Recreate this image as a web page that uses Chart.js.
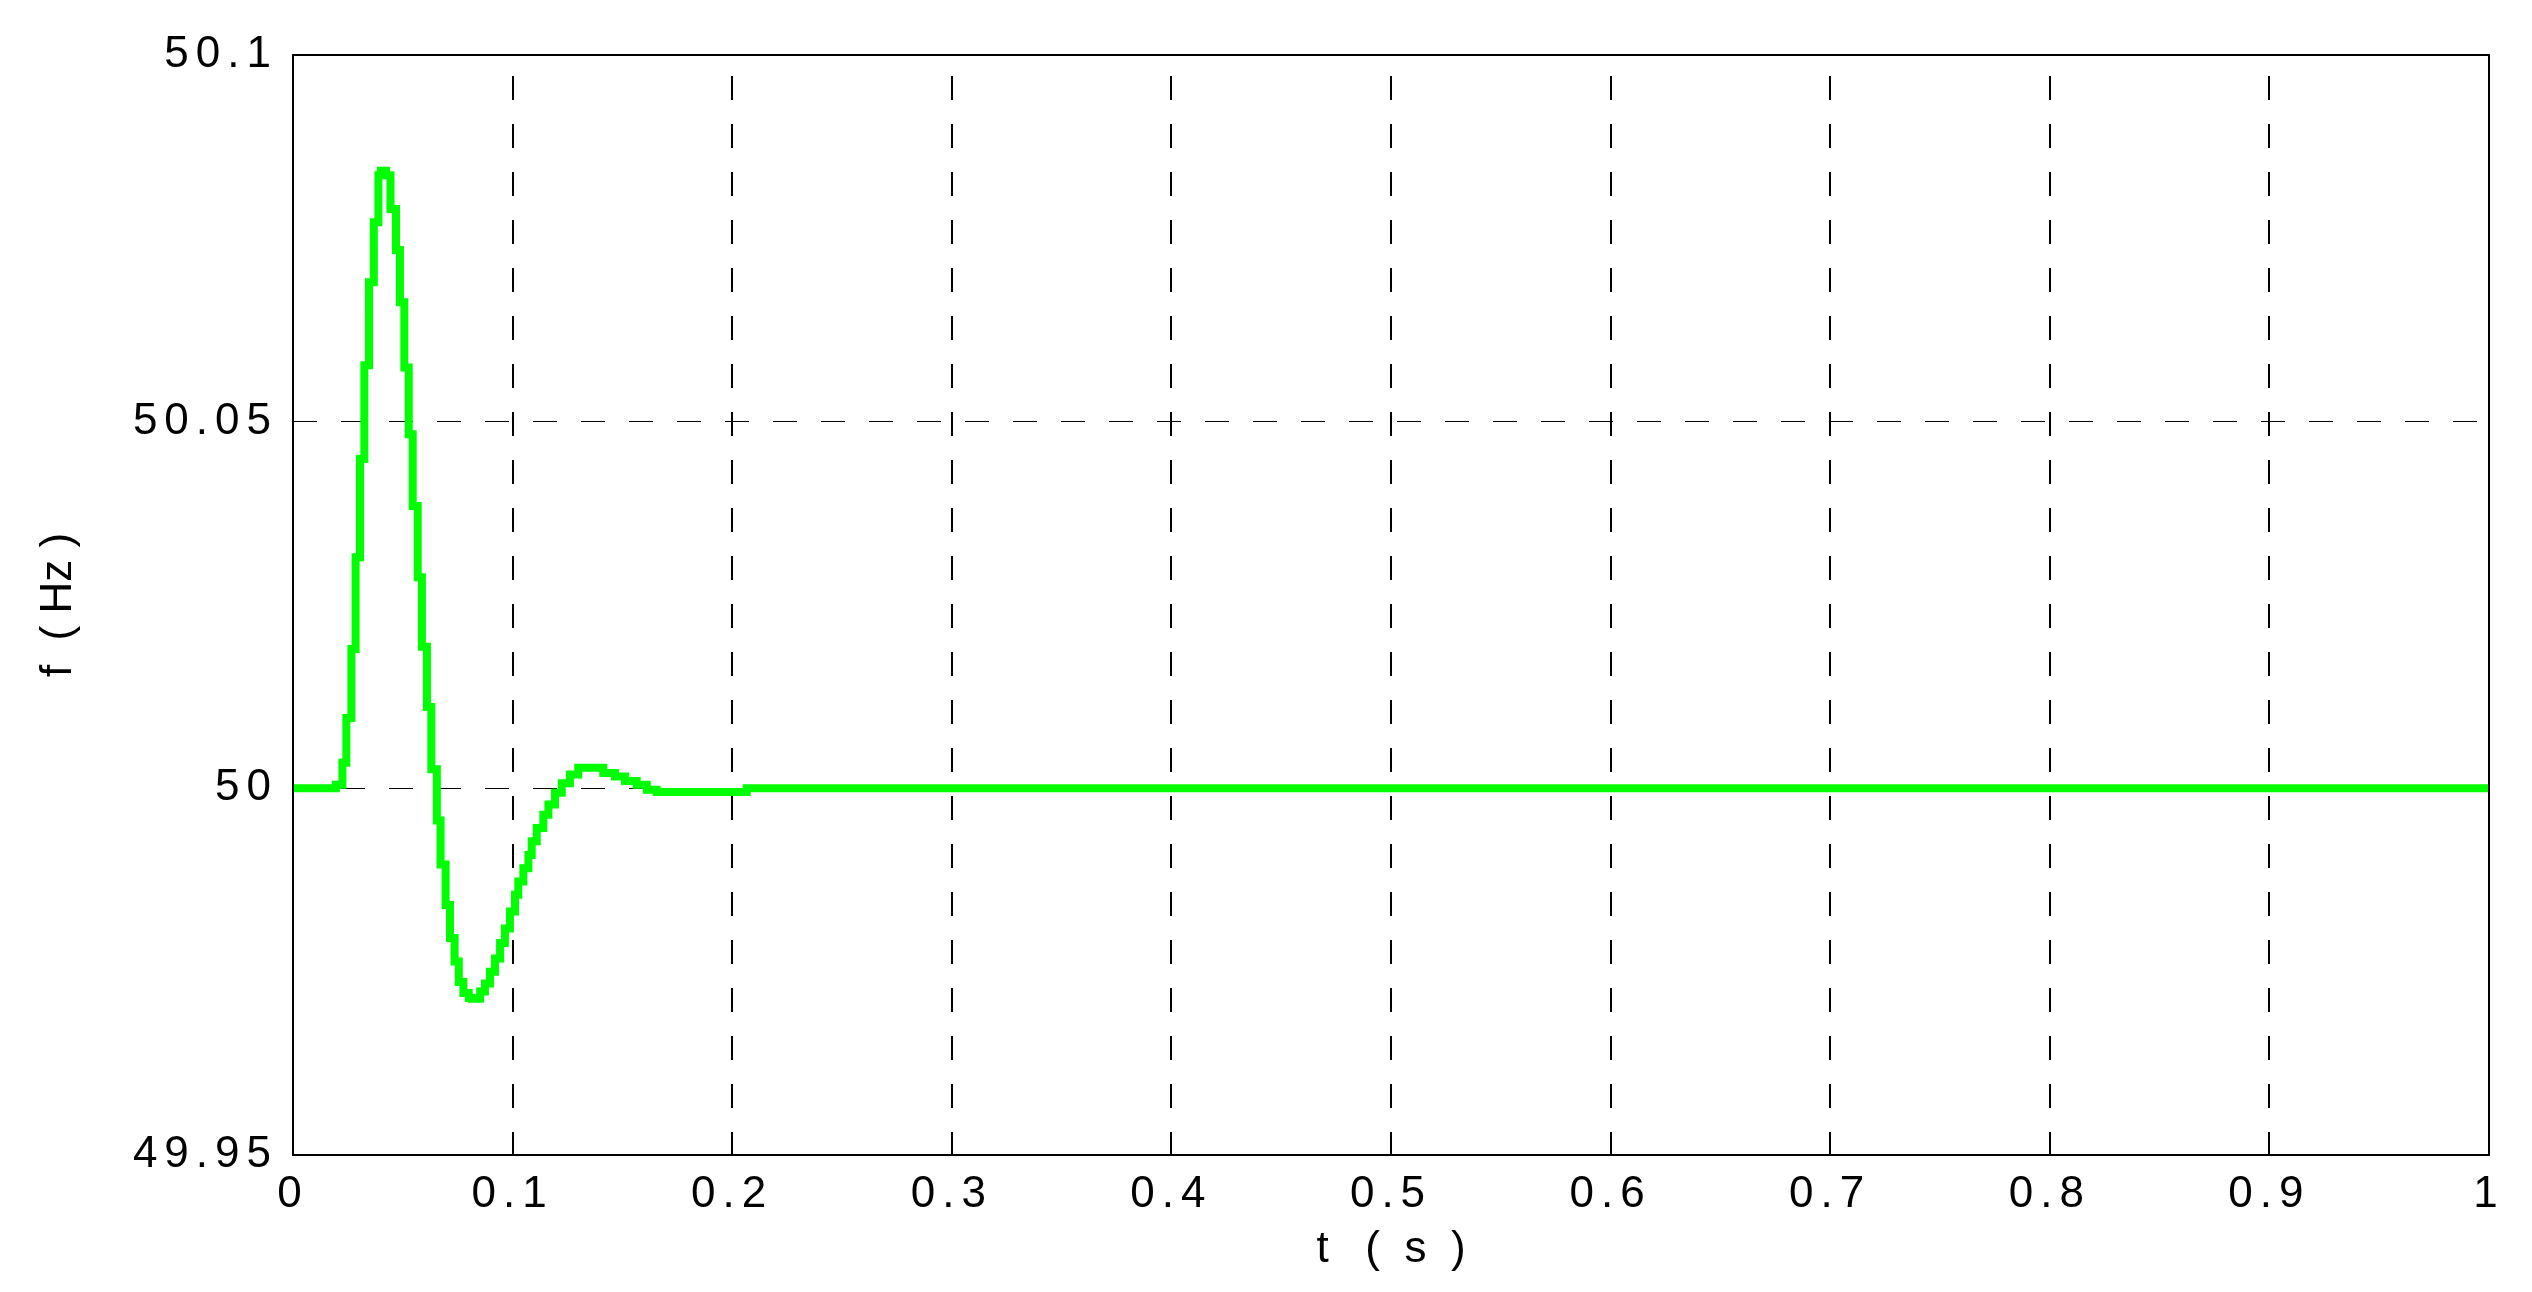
<!DOCTYPE html>
<html><head><meta charset="utf-8">
<script src="https://cdn.jsdelivr.net/npm/chart.js@4.4.1/dist/chart.umd.min.js"></script>
<style>html,body{margin:0;padding:0;background:#fff;overflow:hidden}canvas{display:block}</style>
</head><body>
<canvas id="c" width="2532" height="1292"></canvas>
<script>
// time (s) at which each step starts, and frequency (Hz) held from that time
const timeS = [
  0, 0.0184, 0.0195, 0.0225, 0.0243, 0.0266, 0.0285, 0.0305, 0.0325, 0.0346,
  0.0368, 0.0389, 0.0400, 0.0424, 0.0444, 0.0469, 0.0487, 0.0507, 0.0527, 0.0545,
  0.0568, 0.0587, 0.0610, 0.0630, 0.0655, 0.0672, 0.0695, 0.0715, 0.0736, 0.0755,
  0.0776, 0.0800, 0.0814, 0.0852, 0.0874, 0.0897, 0.0920, 0.0943, 0.0965, 0.0988,
  0.1011, 0.1026, 0.1049, 0.1072, 0.1087, 0.1110, 0.1140, 0.1163, 0.1193, 0.1224,
  0.1261, 0.1299, 0.1375, 0.1413, 0.1466, 0.1512, 0.1565, 0.1611, 0.1656, 0.2050,
  0.2066, 1.0
];
const freqHz = [
  50.0000, 50.0000, 50.0005, 50.0035, 50.0096, 50.0190, 50.0315, 50.0449, 50.0577, 50.0690,
  50.0772, 50.0836, 50.0842, 50.0836, 50.0790, 50.0734, 50.0663, 50.0574, 50.0483, 50.0385,
  50.0288, 50.0193, 50.0111, 50.0026, 49.9956, 49.9896, 49.9841, 49.9796, 49.9764, 49.9736,
  49.9721, 49.9714, 49.9713, 49.9723, 49.9734, 49.9750, 49.9768, 49.9789, 49.9809, 49.9832,
  49.9855, 49.9873, 49.9891, 49.9909, 49.9928, 49.9946, 49.9964, 49.9978, 49.9994, 50.0007,
  50.0019, 50.0028, 50.0028, 50.0021, 50.0016, 50.0010, 50.0005, 49.9998, 49.9995, 49.9995,
  50.0000, 50.0000
];
const xTickValues = [0, 0.1, 0.2, 0.3, 0.4, 0.5, 0.6, 0.7, 0.8, 0.9, 1];
const xTickLabels = ['0', '0.1', '0.2', '0.3', '0.4', '0.5', '0.6', '0.7', '0.8', '0.9', '1'];
const yTickValues = [49.95, 50, 50.05, 50.1];
const yTickLabels = ['49.95', '50', '50.05', '50.1'];
const xTitle = 't   (  s  )';
const yTitle = 'f  ( Hz )';

const points = timeS.map((t, i) => ({x: t, y: freqHz[i]}));
const FONT = "'Liberation Sans', Arial, sans-serif";
const TICK_SPACING = '7px';

const spacingPlugin = {
  id: 'spacing',
  beforeUpdate(chart) { chart.ctx.letterSpacing = TICK_SPACING; },
  beforeDraw(chart) { chart.ctx.letterSpacing = TICK_SPACING; }
};
const boxPlugin = {
  id: 'box',
  afterDraw(chart) {
    const {ctx, chartArea: a} = chart;
    ctx.save();
    ctx.strokeStyle = '#000';
    ctx.lineWidth = 2;
    ctx.setLineDash([]);
    ctx.strokeRect(a.left, a.top, a.right - a.left, a.bottom - a.top);
    ctx.restore();
  }
};
// draw axis titles without the extra tick-label letter spacing
function plainTitle(s) {
  if (s._plainTitle) return;
  const orig = s.drawTitle;
  s.drawTitle = function (...args) {
    const c = this.ctx;
    const prev = c.letterSpacing;
    c.letterSpacing = '0px';
    orig.apply(this, args);
    c.letterSpacing = prev;
  };
  s._plainTitle = true;
}

new Chart(document.getElementById('c'), {
  type: 'line',
  data: {
    datasets: [{
      data: points,
      borderColor: '#00ff00',
      borderWidth: 8,
      pointRadius: 0,
      stepped: true,
      fill: false,
      borderJoinStyle: 'miter'
    }]
  },
  options: {
    responsive: false,
    animation: false,
    events: [],
    layout: {padding: {top: 55, right: 43, bottom: 0, left: 0}},
    plugins: {legend: {display: false}, tooltip: {enabled: false}},
    scales: {
      x: {
        type: 'linear', min: 0, max: 1,
        afterBuildTicks(s) { s.ticks = xTickValues.map(v => ({value: v})); },
        afterFit(s) { s.height = 137; plainTitle(s); },
        ticks: {
          callback: (v, i) => xTickLabels[i],
          font: {family: FONT, size: 44}, color: '#000', padding: 13,
          maxRotation: 0, autoSkip: false
        },
        grid: {color: '#000', lineWidth: 2, drawTicks: false},
        border: {display: false, dash: [24, 24], dashOffset: 27},
        title: {display: true, text: xTitle, font: {family: FONT, size: 44}, color: '#000', padding: {top: 0, bottom: 16}}
      },
      y: {
        type: 'linear', min: 49.95, max: 50.1,
        afterBuildTicks(s) { s.ticks = yTickValues.map(v => ({value: v})); },
        afterFit(s) { s.width = 293; plainTitle(s); },
        ticks: {
          callback: (v, i) => yTickLabels[i],
          font: {family: FONT, size: 44}, color: '#000', padding: 15
        },
        grid: {color: '#000', lineWidth: 1, drawTicks: false},
        border: {display: false, dash: [24, 24], dashOffset: 0},
        title: {display: true, text: yTitle, font: {family: FONT, size: 44}, color: '#000', padding: {top: 32, bottom: 0}}
      }
    }
  },
  plugins: [spacingPlugin, boxPlugin]
});
</script>
</body></html>
